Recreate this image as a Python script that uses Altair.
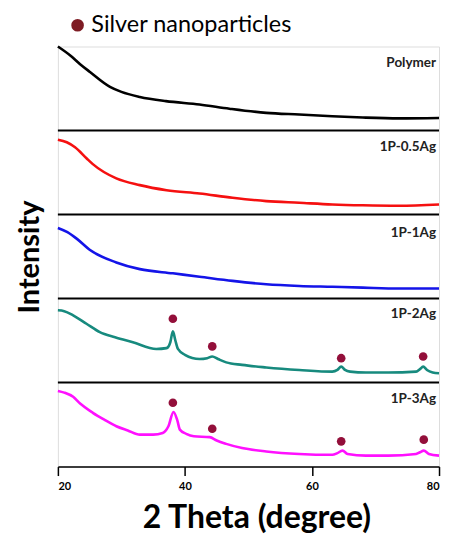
import altair as alt
import pandas as pd

series_names = ["Polymer", "1P-0.5Ag", "1P-1Ag", "1P-2Ag", "1P-3Ag"]
series_colors = ["#000000", "#F51010", "#1414E8", "#178A7E", "#FF10FF"]
panel_offsets = [4, 3, 2, 1, 0]

polymer_x = [20, 22, 23.5, 25, 28.2, 30, 32.9, 37, 42.3, 47, 52.8, 58, 63.2, 68, 73.7, 80]
polymer_y = [1.0, 0.89, 0.79, 0.70, 0.52, 0.46, 0.40, 0.35, 0.31, 0.26, 0.21, 0.19, 0.17, 0.155, 0.145, 0.15]

ag05_x = [20, 21.4, 22.7, 24.5, 25.5, 29.2, 32.9, 37.1, 42.3, 47.5, 52.8, 58, 63.2, 68, 73.7, 80]
ag05_y = [0.89, 0.86, 0.80, 0.67, 0.60, 0.43, 0.35, 0.29, 0.25, 0.20, 0.16, 0.14, 0.12, 0.11, 0.105, 0.12]

ag1_x = [20, 21.5, 23, 25, 29.2, 32.9, 38.1, 42.3, 47.5, 52.8, 58, 63.2, 68, 73.7, 80]
ag1_y = [0.84, 0.79, 0.71, 0.58, 0.43, 0.35, 0.30, 0.26, 0.21, 0.17, 0.15, 0.14, 0.13, 0.12, 0.12]

ag2_x = [20, 21, 22.4, 24.5, 26.6, 29, 31.8, 35.5, 37.1, 37.7, 38.1, 38.5, 38.9, 40, 42.3, 43.5,
         44.3, 45.2, 46.5, 49, 52.8, 58, 63.2, 64, 64.6, 65.2, 66, 68.5, 72, 76.4, 77, 77.5, 78.1, 79, 80]
ag2_y = [0.86, 0.85, 0.80, 0.70, 0.60, 0.54, 0.48, 0.40, 0.41, 0.48, 0.61, 0.50, 0.40, 0.33, 0.28, 0.29,
         0.31, 0.28, 0.24, 0.21, 0.18, 0.15, 0.13, 0.15, 0.19, 0.15, 0.13, 0.12, 0.12, 0.13, 0.16, 0.19, 0.15, 0.12, 0.11]

ag3_x = [20, 21, 22.4, 23.5, 25.5, 27.5, 29.2, 31, 32.9, 35, 36.5, 37.4, 38.2, 38.8, 39.2, 40.2, 41.4,
         43.9, 45, 46.5, 49, 52.8, 58, 63.2, 64, 64.8, 65.6, 68.5, 72, 76.4, 77, 77.6, 78.4, 80]
ag3_y = [0.90, 0.88, 0.83, 0.75, 0.64, 0.55, 0.48, 0.43, 0.38, 0.38, 0.40, 0.48, 0.65, 0.55, 0.44, 0.39, 0.36,
         0.35, 0.31, 0.27, 0.22, 0.18, 0.15, 0.14, 0.16, 0.19, 0.15, 0.13, 0.13, 0.15, 0.17, 0.19, 0.15, 0.13]

peak_series = ["1P-2Ag"] * 4 + ["1P-3Ag"] * 4
peak_x = [38.1, 44.3, 64.6, 77.5, 38.1, 44.3, 64.6, 77.6]
peak_y = [0.76, 0.43, 0.29, 0.31, 0.76, 0.45, 0.30, 0.32]

label_y = [0.80, 0.80, 0.78, 0.82, 0.80]
x_ticks = [20, 40, 60, 80]
separators = [1, 2, 3, 4]
marker_color = "#930F3A"
legend_color = "#7E1C24"

all_x = [polymer_x, ag05_x, ag1_x, ag2_x, ag3_x]
all_y = [polymer_y, ag05_y, ag1_y, ag2_y, ag3_y]
rows = []
for name, off, xs, ys in zip(series_names, panel_offsets, all_x, all_y):
    for i, (xv, yv) in enumerate(zip(xs, ys)):
        rows.append({"series": name, "theta": xv, "intensity": yv + off, "order": i})
lines_df = pd.DataFrame(rows)

off_map = dict(zip(series_names, panel_offsets))
peaks_df = pd.DataFrame({
    "theta": peak_x,
    "intensity": [y + off_map[s] for s, y in zip(peak_series, peak_y)],
    "kind": ["Silver nanoparticles"] * len(peak_x),
})
labels_df = pd.DataFrame({
    "series": series_names,
    "theta": [80] * 5,
    "intensity": [y + o for y, o in zip(label_y, panel_offsets)],
})
sep_df = pd.DataFrame({"y": separators})

xscale = alt.Scale(domain=[20, 80], nice=False)
yscale = alt.Scale(domain=[0, 5], nice=False)

x_axis = alt.Axis(values=x_ticks, grid=False, tickSize=9, tickColor="black", domainColor="black",
                  domainWidth=1.5, tickWidth=1.5, labelFont="Lato", labelFontSize=11, labelFontWeight="bold",
                  labelColor="black", labelPadding=5, title="2 Theta (degree)", titleFont="Lato",
                  titleFontSize=32, titleFontWeight="bold", titleColor="black", titlePadding=11,
                  titleX=199, titleAlign="center")
y_axis = alt.Axis(labels=False, ticks=False, grid=False, domain=False, title="Intensity",
                  titleFont="Lato", titleFontSize=29, titleFontWeight="bold", titleColor="black",
                  titlePadding=13)

lines = alt.Chart(lines_df).mark_line(strokeWidth=2.6, interpolate="monotone").encode(
    x=alt.X("theta:Q", scale=xscale, axis=x_axis),
    y=alt.Y("intensity:Q", scale=yscale, axis=y_axis),
    color=alt.Color("series:N", scale=alt.Scale(domain=series_names, range=series_colors), legend=None),
    detail="series:N",
    order="order:Q",
)

seps = alt.Chart(sep_df).mark_rule(color="black", strokeWidth=2).encode(
    y=alt.Y("y:Q", scale=yscale)
)

legend_marks = alt.Chart(peaks_df).mark_point(filled=True, size=0, opacity=0, shape="circle").encode(
    x=alt.X("theta:Q", scale=xscale),
    y=alt.Y("intensity:Q", scale=yscale),
    fill=alt.Fill("kind:N", scale=alt.Scale(domain=["Silver nanoparticles"], range=[legend_color]),
                  legend=alt.Legend(title=None, orient="none", legendX=8, legendY=-33,
                                    symbolSize=160, symbolType="circle", symbolOpacity=1,
                                    labelFont="Lato", labelLimit=0,
                                    labelFontSize=23.5, labelColor="black", labelOffset=2, padding=0)),
)

markers = alt.Chart(peaks_df).mark_circle(size=75, opacity=1, color=marker_color).encode(
    x=alt.X("theta:Q", scale=xscale),
    y=alt.Y("intensity:Q", scale=yscale),
)

labels = alt.Chart(labels_df).mark_text(align="right", baseline="middle", dx=-3, font="Lato",
                                        fontSize=13.5, fontWeight="bold", color="#222222").encode(
    x=alt.X("theta:Q", scale=xscale),
    y=alt.Y("intensity:Q", scale=yscale),
    text="series:N",
)

chart = alt.layer(seps, lines, legend_marks, markers, labels).properties(
    width=382, height=421,
    autosize=alt.AutoSizeParams(type="none"),
    padding={"left": 50, "top": 38, "right": 10, "bottom": 70},
).configure_view(stroke="black", strokeWidth=1.5).configure(background="white")

chart.save("out.html", embed_options={"renderer": "svg", "actions": False})
